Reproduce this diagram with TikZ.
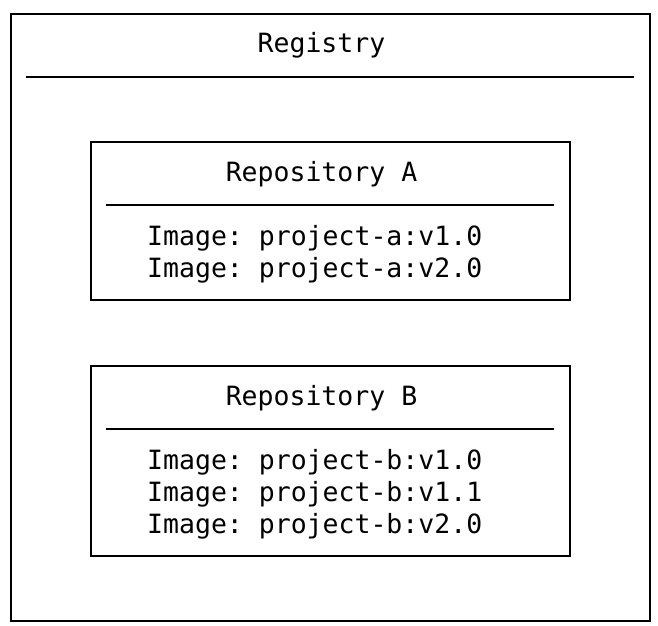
\documentclass[tikz,border=0pt]{standalone}
\usepackage{fontspec}
\setmonofont{DejaVu Sans Mono}
\begin{document}
\begin{tikzpicture}[x=1pt,y=-1pt,
  frame/.style={draw=black,line width=2pt},
  rule/.style={draw=black,line width=2pt},
  ttf/.style={font=\ttfamily\fontsize{26.5}{32}\selectfont,text=black,inner sep=0pt},
  txt/.style={ttf,anchor=base west},
  title/.style={ttf,anchor=base}]
\useasboundingbox (0,0) rectangle (658,625);
% outer registry
\draw[frame] (11,14) rectangle (650,621);
\node[title] (reg) at (321.5,52) {Registry};
\coordinate (r1) at (26,77);
\coordinate (r2) at (634,77);
\draw[rule] (r1) -- (r2);
% Repository A
\draw[frame] (91,142) rectangle (570,300);
\node[title] (ra) at (321.5,181) {Repository A};
\coordinate (a1) at (106,205);
\coordinate (a2) at (554,205);
\draw[rule] (a1) -- (a2);
\node[txt] (ia1) at (147,245) {Image: project-a:v1.0};
\node[txt] (ia2) at (147,277) {Image: project-a:v2.0};
% Repository B
\draw[frame] (91,366) rectangle (570,556);
\node[title] (rb) at (321.5,405) {Repository B};
\coordinate (b1) at (106,429);
\coordinate (b2) at (554,429);
\draw[rule] (b1) -- (b2);
\node[txt] (ib1) at (147,469) {Image: project-b:v1.0};
\node[txt] (ib2) at (147,501) {Image: project-b:v1.1};
\node[txt] (ib3) at (147,533) {Image: project-b:v2.0};
\end{tikzpicture}
\end{document}
